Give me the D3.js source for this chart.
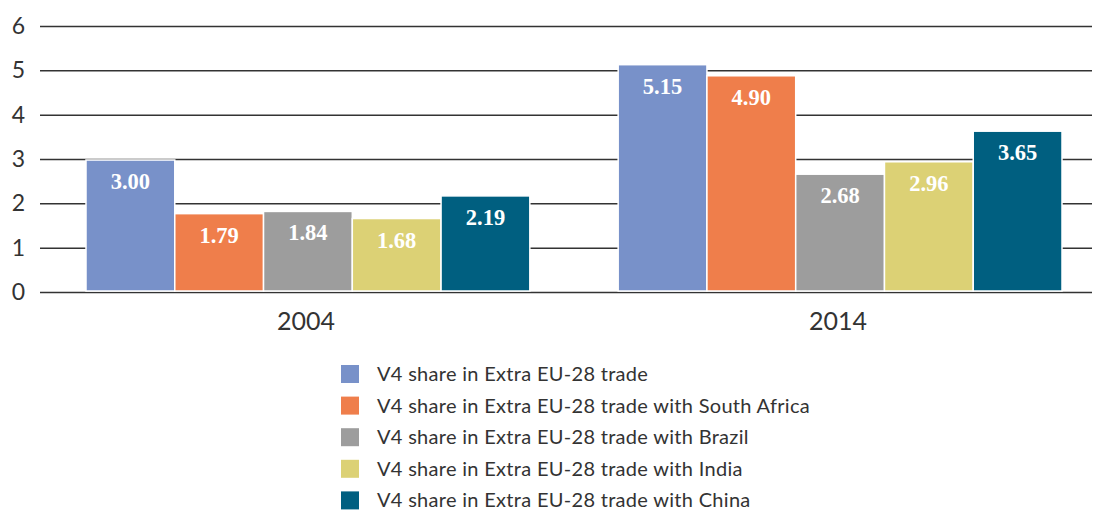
<!DOCTYPE html>
<html>
<head>
<meta charset="utf-8">
<script src="https://cdn.jsdelivr.net/npm/d3@7"></script>
<style>
  body { margin: 0; background: #fff; }
  svg { display: block; }
</style>
</head>
<body>
<svg width="1101" height="511"></svg>
<script>
var years = ['2004', '2014'];
var series = [
  'V4 share in Extra EU-28 trade',
  'V4 share in Extra EU-28 trade with South Africa',
  'V4 share in Extra EU-28 trade with Brazil',
  'V4 share in Extra EU-28 trade with India',
  'V4 share in Extra EU-28 trade with China'
];
var colors = ['#7891c9', '#ef7e4b', '#9d9d9d', '#dcd175', '#005f80'];
var values2004 = [3.00, 1.79, 1.84, 1.68, 2.19];
var values2014 = [5.15, 4.90, 2.68, 2.96, 3.65];
var yTicks = [0, 1, 2, 3, 4, 5, 6];

var svg = d3.select('svg');
var sans = 'Lato, "Open Sans", sans-serif';
var serif = '"Liberation Serif", "DejaVu Serif", serif';

var y = d3.scaleLinear().domain([0, 6]).range([292, 26]);

var x0 = d3
  .scaleBand()
  .domain(years)
  .range([86, 1062])
  .paddingInner(0.166)
  .paddingOuter(0);

var x1 = d3
  .scaleBand()
  .domain(d3.range(series.length))
  .range([0, x0.bandwidth()]);

var data = years.map(function(yr, i) {
  var vals = i === 0 ? values2004 : values2014;
  return {year: yr, bars: vals.map(function(v, j) { return {s: j, v: v}; })};
});

// gridlines + y labels
var axis = d3
  .axisLeft(y)
  .tickValues(yTicks)
  .tickSize(-(1092 - 40))
  .tickFormat(d3.format('d'));

var gy = svg.append('g').attr('transform', 'translate(40,0)').call(axis);
gy.select('.domain').remove();
gy.selectAll('.tick line').attr('stroke', '#333').attr('stroke-width', 1.5);
gy.selectAll('.tick text')
  .attr('x', -15)
  .attr('fill', '#333')
  .style('font-family', sans)
  .style('font-size', '23px');

// bars
var groups = svg
  .selectAll('g.group')
  .data(data)
  .enter()
  .append('g')
  .attr('class', 'group')
  .attr('transform', function(d) { return 'translate(' + x0(d.year) + ',0)'; });

groups
  .selectAll('rect')
  .data(function(d) { return d.bars; })
  .enter()
  .append('rect')
  .attr('x', function(d) { return x1(d.s); })
  .attr('width', x1.bandwidth())
  .attr('y', function(d) { return y(d.v) + 1; })
  .attr('height', function(d) { return y(0) - y(d.v) - 2; })
  .attr('fill', function(d) { return colors[d.s]; })
  .attr('stroke', '#fff')
  .attr('stroke-width', 1.5);

groups
  .selectAll('text.val')
  .data(function(d) { return d.bars; })
  .enter()
  .append('text')
  .attr('class', 'val')
  .attr('x', function(d) { return x1(d.s) + x1.bandwidth() / 2; })
  .attr('y', function(d) { return y(d.v) + 30; })
  .attr('text-anchor', 'middle')
  .attr('fill', '#fff')
  .style('font-family', serif)
  .style('font-weight', 'bold')
  .style('font-size', '22.5px')
  .text(function(d) { return d.v.toFixed(2); });

// x labels
svg
  .selectAll('text.year')
  .data(years)
  .enter()
  .append('text')
  .attr('class', 'year')
  .attr('x', function(d) { return x0(d) + x0.bandwidth() / 2 - 2; })
  .attr('y', 330)
  .attr('text-anchor', 'middle')
  .attr('fill', '#333')
  .style('font-family', sans)
  .style('font-size', '25px')
  .text(function(d) { return d; });

// legend
var legend = svg
  .selectAll('g.legend')
  .data(series)
  .enter()
  .append('g')
  .attr('class', 'legend')
  .attr('transform', function(d, i) { return 'translate(341,' + (374 + i * 31.6) + ')'; });

legend
  .append('rect')
  .attr('y', -9)
  .attr('width', 18)
  .attr('height', 18)
  .attr('fill', function(d, i) { return colors[i]; });

legend
  .append('text')
  .attr('x', 36)
  .attr('y', 7)
  .attr('fill', '#333')
  .style('font-family', sans)
  .style('font-size', '20px')
  .style('letter-spacing', '0.3px')
  .text(function(d) { return d; });
</script>
</body>
</html>
